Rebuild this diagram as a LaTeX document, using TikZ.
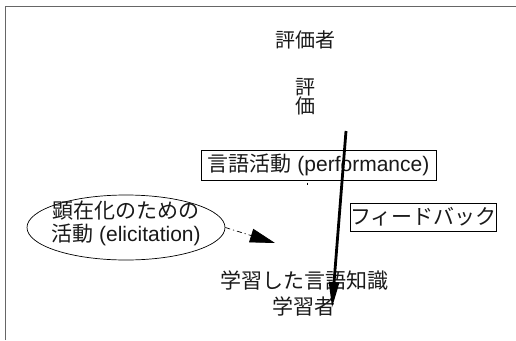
\documentclass[tikz,border=0pt]{standalone}
\usepackage{fontspec}
\setmainfont{Liberation Sans}
\newfontfamily\jp{Noto Sans CJK JP}
\usetikzlibrary{arrows.meta,shapes.geometric}
\tikzset{
  txt/.style={inner sep=0pt, font=\fontsize{21}{24}\selectfont, text=black!90},
  boxed/.style={txt, draw=black, line width=0.8pt, inner sep=0pt},
  frameline/.style={draw=black!60, line width=1.3pt},
  dashdot/.style={line width=0.7pt, dash pattern=on 5pt off 3pt on 1.2pt off 3pt, -{Triangle[length=25pt,width=14pt]}},
  thickarrow/.style={line width=2.8pt, -{Triangle[length=26pt,width=10pt]}}
}
\begin{document}
\begin{tikzpicture}[x=1pt,y=-1pt]
\useasboundingbox (0,0) rectangle (516,340);
% frame
\draw[frameline] (5.5,340) -- (5.5,6.5) -- (516,6.5);
% nodes
\node[txt, font=\fontsize{20}{24}\selectfont] (hyokasha) at (305,40) {\jp 評価者};
\node[txt, align=center, font=\fontsize{20}{18}\selectfont] (hyoka) at (305,97) {\jp 評\\\jp 価};
\node[boxed, minimum width=235pt, minimum height=30pt] (perf) at (318.5,165) {{\jp 言語活動} (performance)};
\node[boxed, minimum width=143pt, minimum height=28pt] (fb) at (423.5,217) {\jp フィードバック};
\node[ellipse, draw=black, line width=0.7pt, minimum width=198pt, minimum height=65pt, inner sep=0pt] (el) at (126,227.5) {};
\node[txt, align=center, font=\fontsize{21}{23}\selectfont] (elt) at (126,223) {{\jp 顕在化のための}\\{\jp 活動} (elicitation)};
\node[txt] (chishiki) at (304,281) {\jp 学習した言語知識};
\node[txt] (gakushusha) at (304,306) {\jp 学習者};
% connectors
\coordinate (tgt) at (275,243);
\draw[dashdot] (el.east) -- (tgt);
\coordinate (top) at (346,131);
\coordinate (bot) at (332,308);
\draw[thickarrow] (top) -- (bot);
\coordinate (tick1) at (307,182.5);
\coordinate (tick2) at (307,185);
\draw[line width=0.6pt] (tick1) -- (tick2);
\end{tikzpicture}
\end{document}
